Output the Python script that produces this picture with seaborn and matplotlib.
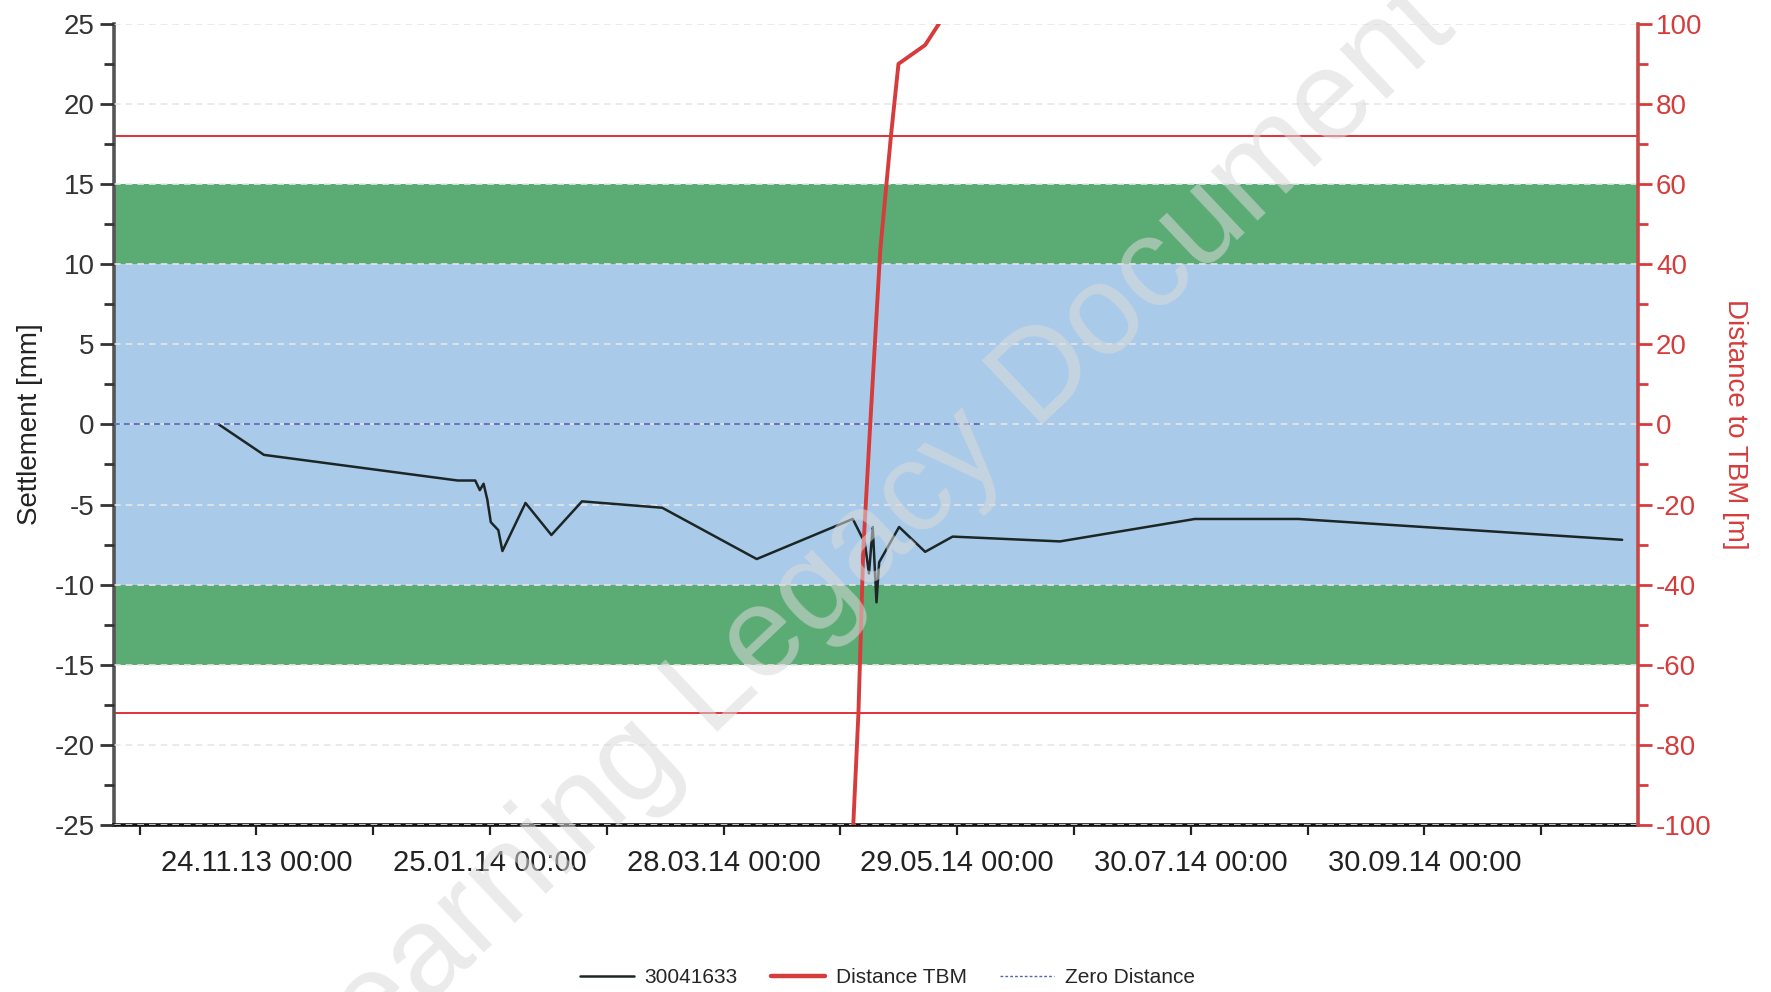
import pandas as pd
import numpy as np
import seaborn as sns
import matplotlib.pyplot as plt
import matplotlib.dates as mdates
from matplotlib.lines import Line2D
from matplotlib.ticker import MultipleLocator, FixedLocator

# Dados
settle_dates = ['2013-11-14 00:00', '2013-11-26 00:00', '2014-01-16 10:00', '2014-01-21 02:00',
                '2014-01-22 07:00', '2014-01-23 07:00', '2014-01-24 07:00', '2014-01-25 05:00',
                '2014-01-27 05:00', '2014-01-28 07:00', '2014-02-03 10:00', '2014-02-10 07:00',
                '2014-02-18 10:00', '2014-03-11 17:00', '2014-04-05 19:00', '2014-05-01 07:00',
                '2014-05-04 12:00', '2014-05-05 14:00', '2014-05-06 14:00', '2014-05-07 14:00',
                '2014-05-08 07:00', '2014-05-13 14:00', '2014-05-20 12:00', '2014-05-27 19:00',
                '2014-06-25 07:00', '2014-07-31 02:00', '2014-08-27 14:00', '2014-11-21 12:00']
settle_mm = [0.0, -1.9, -3.5, -3.5, -4.1, -3.7, -4.7, -6.1, -6.6, -7.9, -4.9, -6.9, -4.8, -5.2,
             -8.4, -5.9, -7.4, -9.3, -6.4, -11.1, -8.6, -6.4, -7.95, -7.0, -7.3, -5.9, -5.9, -7.2]

tbm_dates = ['2014-05-01 10:00', '2014-05-02 19:00', '2014-05-04 02:00', '2014-05-05 22:00',
             '2014-05-08 14:00', '2014-05-11 10:00', '2014-05-13 10:00', '2014-05-20 12:00',
             '2014-05-24 12:00']
tbm_m = [-100, -72, -31, 0, 43.5, 72, 90, 94.7, 100.5]

zero_dates = ['2013-10-17 05:00', '2014-06-04 02:00']
zero_m = [0, 0]

settle = pd.DataFrame({'date': pd.to_datetime(settle_dates), 'value': settle_mm})
tbm = pd.DataFrame({'date': pd.to_datetime(tbm_dates), 'value': tbm_m})
zero = pd.DataFrame({'date': pd.to_datetime(zero_dates), 'value': zero_m})

sns.set_style('white')
plt.rcParams['font.family'] = ['Liberation Sans', 'DejaVu Sans']
plt.rcParams['axes.unicode_minus'] = False

red = '#d63c3c'
fig = plt.figure(figsize=(17.71, 9.92), dpi=100)
ax = fig.add_axes([0.0644, 0.1683, 0.8605, 0.8077])

# Faixas e limites
ax.axhspan(-10, 10, color='#a9cbe9', lw=0, zorder=0.5)
ax.axhspan(10, 15, color='#5bab74', lw=0, zorder=0.5)
ax.axhspan(-15, -10, color='#5bab74', lw=0, zorder=0.5)
ax.axhline(18, color='#e3303a', lw=1.4, zorder=1)
ax.axhline(-18, color='#e3303a', lw=1.4, zorder=1)

sns.lineplot(data=settle, x='date', y='value', ax=ax, color='#1c2626', lw=1.8, zorder=3)

ax.set_ylim(-25, 25)
ax.set_xlim(pd.Timestamp('2013-10-17 05:00'), pd.Timestamp('2014-11-25 17:00'))
ax.yaxis.set_major_locator(MultipleLocator(5))
ax.yaxis.set_minor_locator(MultipleLocator(2.5))
ax.yaxis.grid(True, linestyle=(0, (4, 3)), color='#e6e6e6', lw=1.2)
ax.set_axisbelow(False)
ax.xaxis.set_major_locator(FixedLocator(mdates.date2num(pd.date_range('2013-11-24', periods=6, freq='62D'))))
ax.xaxis.set_minor_locator(FixedLocator(mdates.date2num(pd.date_range('2013-10-24', periods=7, freq='62D'))))
ax.xaxis.set_major_formatter(mdates.DateFormatter('%d.%m.%y %H:%M'))
ax.tick_params(axis='x', which='both', length=7, width=1.6, pad=10, labelsize=21,
               colors='#222222', bottom=True)
ax.tick_params(axis='y', which='major', length=10, width=2, pad=4, labelsize=20,
               colors='#333333', left=True)
ax.tick_params(axis='y', which='minor', length=7, width=2, colors='#333333', left=True)
ax.set_xlabel('')
ax.set_ylabel('Settlement [mm]', fontsize=20, color='#222222', labelpad=8)
for s in ['top', 'right']:
    ax.spines[s].set_visible(False)
ax.spines['left'].set_color('#555555')
ax.spines['left'].set_linewidth(2.6)
ax.spines['bottom'].set_color('#111111')
ax.spines['bottom'].set_linewidth(2.6)

# Eixo da distância à TBM
ax2 = ax.twinx()
sns.lineplot(data=tbm, x='date', y='value', ax=ax2, color=red, lw=2.8, zorder=3)
sns.lineplot(data=zero, x='date', y='value', ax=ax2, color='#5563b5', lw=1.2,
             linestyle=(0, (3.5, 2.5)), zorder=2)
ax2.set_ylim(-100, 100)
ax2.yaxis.set_major_locator(MultipleLocator(20))
ax2.yaxis.set_minor_locator(MultipleLocator(10))
ax2.tick_params(axis='y', which='major', length=10, width=2, pad=3, labelsize=20, colors=red, right=True)
ax2.tick_params(axis='y', which='minor', length=7, width=2, colors=red, right=True)
ax2.set_ylabel('Distance to TBM [m]', fontsize=20, color=red, rotation=270, labelpad=26)
for s in ['top', 'left', 'bottom']:
    ax2.spines[s].set_visible(False)
ax2.spines['right'].set_color('#c84848')
ax2.spines['right'].set_linewidth(2.6)
ax2.grid(False)

handles = [Line2D([], [], color='#1c2626', lw=1.8),
           Line2D([], [], color=red, lw=3.2),
           Line2D([], [], color='#5563b5', lw=1, linestyle=(0, (2, 1.5)))]
fig.legend(handles, ['30041633', 'Distance TBM', 'Zero Distance'], loc='center',
           bbox_to_anchor=(0.501, 0.0145), ncol=3, frameon=False, fontsize=15,
           handlelength=2.6, handletextpad=0.5, columnspacing=1.6)

# Marca d'água
fig.text(0.49, 0.452, 'Learning Legacy Document', rotation=43.4, fontsize=92,
         color='#dadada', alpha=0.55, ha='center', va='center', zorder=10)

fig.savefig('out.png', dpi=100)
